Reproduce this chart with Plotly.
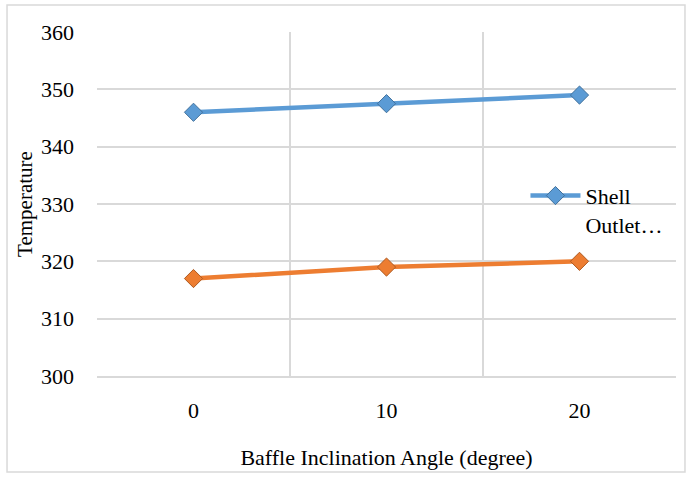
import plotly.graph_objects as go

angles = ["0", "10", "20"]
shell_outlet = [346, 347.5, 349]
tube_outlet = [317, 319, 320]
y_ticks = [300, 310, 320, 330, 340, 350, 360]

FONT = "Liberation Serif"
GRID = "#d9d9d9"

fig = go.Figure()
fig.add_trace(go.Scatter(
    x=angles, y=shell_outlet, mode="lines+markers", name="Shell<br>Outlet…",
    line=dict(color="#5B9BD5", width=4.5),
    marker=dict(symbol="diamond", size=14, color="#5B9BD5",
                line=dict(color="#41719C", width=1)),
))
fig.add_trace(go.Scatter(
    x=angles, y=tube_outlet, mode="lines+markers", name="Tube Outlet",
    showlegend=False,
    line=dict(color="#ED7D31", width=4.5),
    marker=dict(symbol="diamond", size=14, color="#ED7D31",
                line=dict(color="#AE5A21", width=1)),
))

fig.update_layout(
    width=689, height=477,
    margin=dict(l=97, r=13, t=32, b=101),
    paper_bgcolor="white", plot_bgcolor="white",
    font=dict(family=FONT, size=22, color="black"),
    xaxis=dict(
        type="category", range=[-0.5, 2.5], tickson="boundaries",
        showgrid=True, gridcolor=GRID, gridwidth=1.5,
        showline=True, linecolor=GRID, linewidth=1.5,
        ticks="", ticklabelstandoff=14,
        title=dict(text="Baffle Inclination Angle (degree)", standoff=27,
                   font=dict(size=22)),
        zeroline=False,
    ),
    yaxis=dict(
        range=[300, 360], tickvals=y_ticks,
        showgrid=True, gridcolor=GRID, gridwidth=1.5,
        showline=False, ticks="", ticklabelstandoff=22,
        title=dict(text="Temperature", standoff=2, font=dict(size=21)),
        zeroline=False,
    ),
    legend=dict(
        x=0.74, y=0.585, xanchor="left", yanchor="top",
        bgcolor="rgba(0,0,0,0)", valign="top",
        font=dict(size=22), itemwidth=50,
    ),
    shapes=[dict(
        type="rect", xref="paper", yref="paper",
        x0=-0.1554, x1=1.0155, y0=-0.279, y1=1.0785,
        line=dict(color=GRID, width=1.5), layer="below",
    )],
)

fig.write_html("out.html")
